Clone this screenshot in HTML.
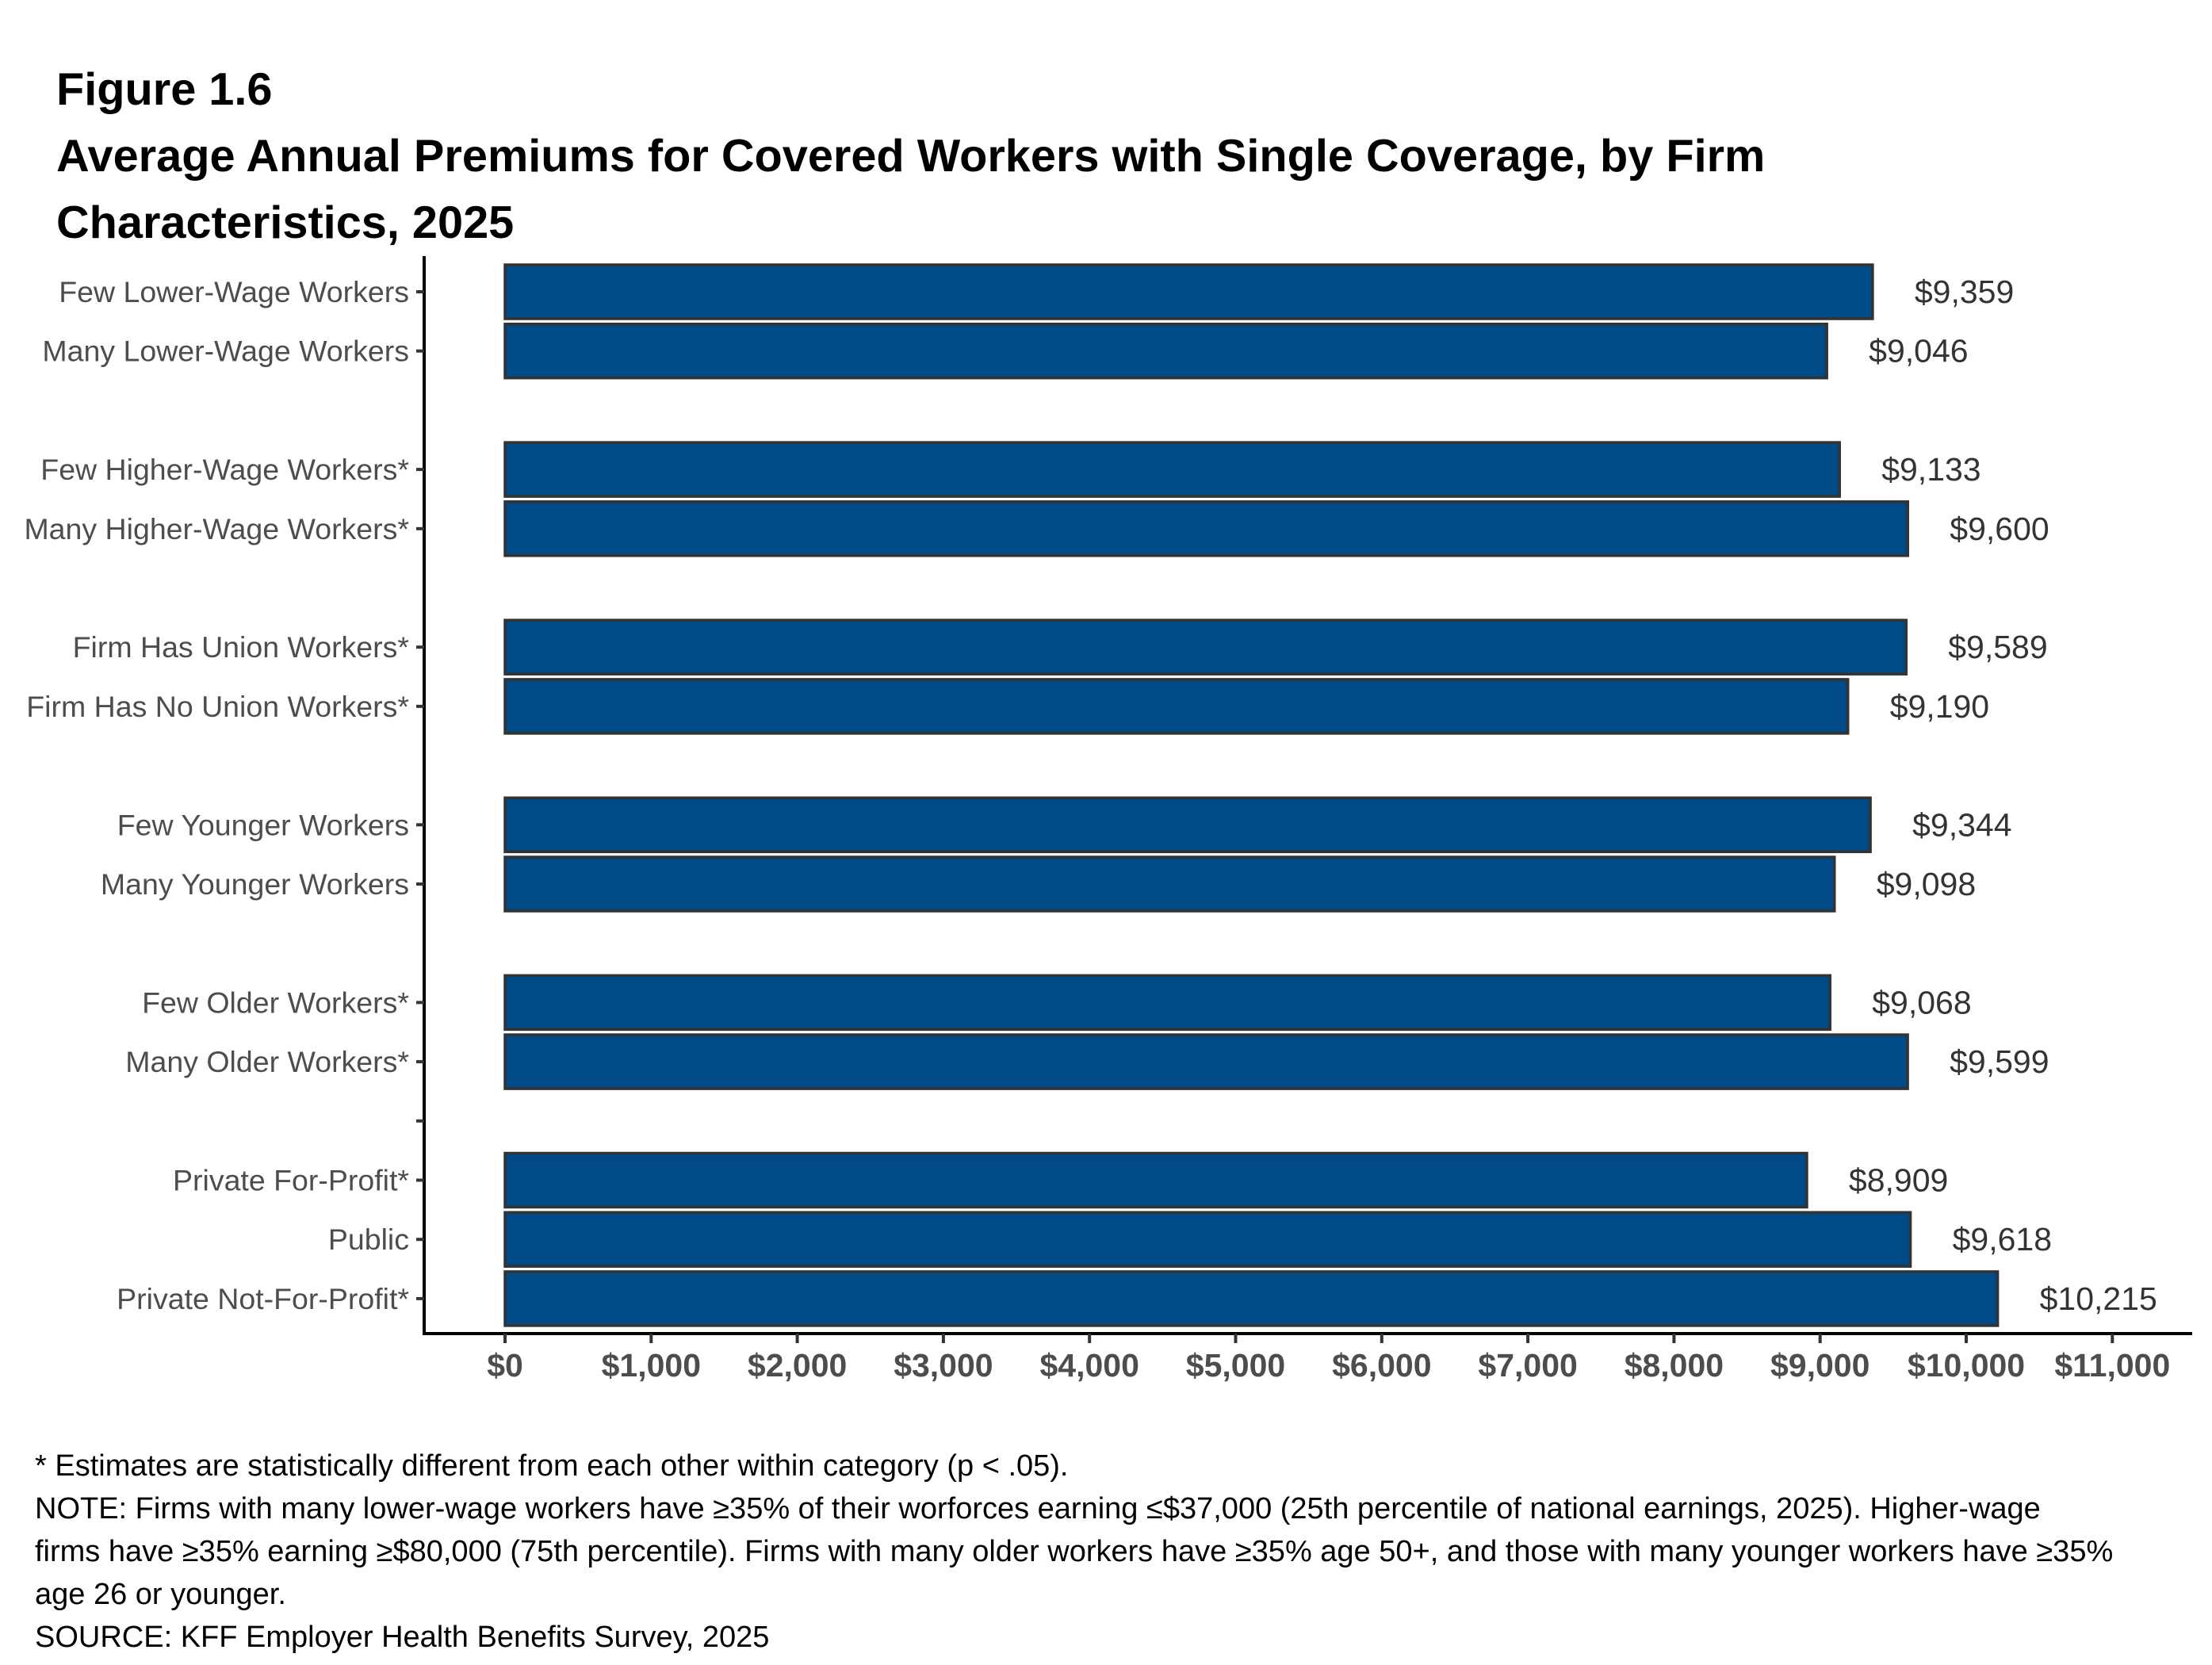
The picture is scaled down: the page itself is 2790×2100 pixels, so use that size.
<!DOCTYPE html>
<html><head><meta charset="utf-8"><style>
html,body{margin:0;padding:0;background:#fff;}
svg{display:block;font-family:"Liberation Sans",Arial,sans-serif;}
</style></head><body>
<svg id="chart" width="2790" height="2100" viewBox="0 0 2790 2100" xmlns="http://www.w3.org/2000/svg">
<g font-weight="bold" font-size="57.7" fill="#000">
<text x="71" y="132">Figure 1.6</text>
<text x="71" y="216">Average Annual Premiums for Covered Workers with Single Coverage, by Firm</text>
<text x="71" y="300">Characteristics, 2025</text>
</g>
<g id="plot"></g>
<g font-size="38" fill="#000">
<text x="44" y="1861">* Estimates are statistically different from each other within category (p &lt; .05).</text>
<text x="44" y="1915">NOTE: Firms with many lower-wage workers have ≥35% of their worforces earning ≤$37,000 (25th percentile of national earnings, 2025). Higher-wage</text>
<text x="44" y="1969">firms have ≥35% earning ≥$80,000 (75th percentile). Firms with many older workers have ≥35% age 50+, and those with many younger workers have ≥35%</text>
<text x="44" y="2023">age 26 or younger.</text>
<text x="44" y="2077">SOURCE: KFF Employer Health Benefits Survey, 2025</text>
</g>
</svg>
<script>
const categories = ["Few Lower-Wage Workers","Many Lower-Wage Workers",null,"Few Higher-Wage Workers*","Many Higher-Wage Workers*",null,"Firm Has Union Workers*","Firm Has No Union Workers*",null,"Few Younger Workers","Many Younger Workers",null,"Few Older Workers*","Many Older Workers*","",null,"Private For-Profit*","Public","Private Not-For-Profit*"];
const values = [9359,9046,null,9133,9600,null,9589,9190,null,9344,9098,null,9068,9599,null,null,8909,9618,10215];
const valueLabels = ["$9,359","$9,046",null,"$9,133","$9,600",null,"$9,589","$9,190",null,"$9,344","$9,098",null,"$9,068","$9,599",null,null,"$8,909","$9,618","$10,215"];
const xTicks = [0,1000,2000,3000,4000,5000,6000,7000,8000,9000,10000,11000];
const xTickLabels = ["$0","$1,000","$2,000","$3,000","$4,000","$5,000","$6,000","$7,000","$8,000","$9,000","$10,000","$11,000"];

const NS = "http://www.w3.org/2000/svg";
const plot = document.getElementById('plot');
const x0 = 637, pxPer = 184.3/1000;
const xScale = v => x0 + v*pxPer;
const row0 = 368, rowStep = 74.7;
const slotY = [];
{ let s = 0; for (let i=0;i<categories.length;i++){ if (categories[i]===null && i>0 && categories[i-1]==="" ) { slotY.push(null); continue; } slotY.push(row0 + s*rowStep); s++; } }
const yScale = i => slotY[i];
function el(tag, attrs){ const e=document.createElementNS(NS,tag); for(const k in attrs) e.setAttribute(k,attrs[k]); plot.appendChild(e); return e; }

const axisTop = 323, axisBottom = 1682, axisLeft = 535, axisRight = 2765;
const yAxis = el('line',{x1:axisLeft,y1:axisTop,x2:axisLeft,y2:axisBottom+2,stroke:'#000','stroke-width':4});


const xAxis = el('line',{x1:axisLeft-2,y1:axisBottom,x2:axisRight,y2:axisBottom,stroke:'#000','stroke-width':4});



for (let i=0;i<categories.length;i++){
  const y = yScale(i);
  if (y===null || categories[i]===null) continue;
  const t = el('line',{x1:axisLeft-10,y1:y,x2:axisLeft,y2:y,stroke:'#333','stroke-width':4});
  
  
  if (categories[i]) {
    const lbl = el('text',{x:516,y:y+13,'text-anchor':'end','font-size':37.5,fill:'#4d4d4d'});
    lbl.textContent = categories[i];
    
    
  }
  if (values[i]!==null && values[i]!==undefined) {
    const bh = 68;
    const b = el('rect',{x:xScale(0),y:y-bh/2,width:xScale(values[i])-xScale(0),height:bh,fill:'#004A87',stroke:'#333','stroke-width':3.5});
    
    
    const vl = el('text',{x:xScale(values[i])+53,y:y+14,'font-size':41,fill:'#333'});
    vl.textContent = valueLabels[i];
    
    
  }
}
for (let j=0;j<xTicks.length;j++){
  const x = xScale(xTicks[j]);
  const t = el('line',{x1:x,y1:axisBottom,x2:x,y2:axisBottom+12,stroke:'#333','stroke-width':4});
  
  
  const l = el('text',{x:x,y:axisBottom+54,'text-anchor':'middle','font-size':41,'font-weight':'bold',fill:'#4d4d4d'});
  l.textContent = xTickLabels[j];
  
  
}
</script>
</body></html>
